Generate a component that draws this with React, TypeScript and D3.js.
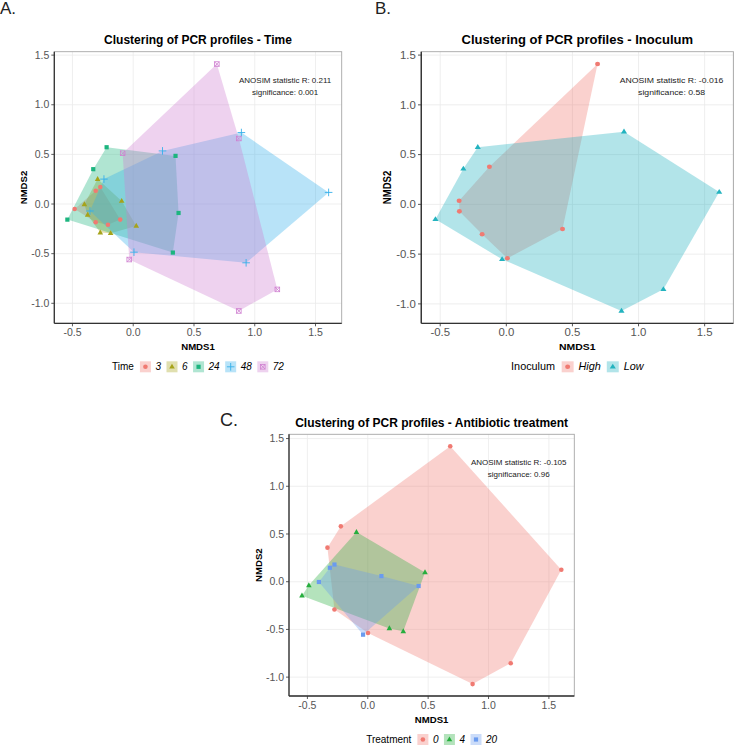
import React from "react";
import * as d3 from "d3";

// ---------- Panel A : Time ----------
const timeLevels = ["3", "6", "24", "48", "72"];
const timeColors = ["#F07A72", "#A6A31A", "#1DB57F", "#35B0EA", "#CF7FD0"];
const timeShapes = ["circle", "triangle", "square", "plus", "squarecross"];
const timeGroup = [
  0, 0, 0, 0, 0, 0,
  1, 1, 1, 1, 1, 1, 1,
  2, 2, 2, 2, 2, 2,
  3, 3, 3, 3, 3, 3, 3,
  4, 4, 4, 4, 4, 4,
];
const timeNMDS1 = [
  -0.309, -0.271, -0.482, -0.309, -0.208, -0.107,
  -0.293, -0.402, -0.375, -0.095, 0.025, -0.271, -0.186,
  -0.219, 0.348, -0.329, -0.542, 0.373, 0.326,
  0.89, 0.241, -0.241, 1.608, -0.356, 0.006, 0.929,
  0.688, 0.869, -0.087, -0.033, 1.186, 0.869,
];
const timeNMDS2 = [
  0.134, 0.171, -0.05, -0.184, -0.208, -0.157,
  0.251, -0.003, -0.11, 0.03, -0.221, -0.288, -0.295,
  0.572, 0.485, 0.351, -0.157, -0.09, -0.489,
  0.72, 0.535, 0.251, 0.117, -0.07, -0.485, -0.592,
  1.41, 0.66, 0.512, -0.559, -0.86, -1.077,
];

// ---------- Panel B : Inoculum ----------
const inocLevels = ["High", "Low"];
const inocColors = ["#F07A72", "#23B3BF"];
const inocShapes = ["circle", "triangle"];
const inocGroup = [0, 0, 0, 0, 0, 0, 0, 1, 1, 1, 1, 1, 1, 1, 1];
const inocNMDS1 = [0.69, -0.128, -0.357, -0.355, -0.183, 0.425, 0.008, 0.89, -0.216, -0.325, 1.61, -0.536, -0.032, 1.188, 0.871];
const inocNMDS2 = [1.41, 0.378, 0.037, -0.07, -0.3, -0.248, -0.542, 0.73, 0.575, 0.358, 0.124, -0.15, -0.552, -0.853, -1.071];

// ---------- Panel C : Antibiotic treatment ----------
const treatLevels = ["0", "4", "20"];
const treatColors = ["#F07A72", "#27AE3E", "#6A9BEF"];
const treatShapes = ["circle", "triangle", "square"];
const treatGroup = [0, 0, 0, 0, 0, 0, 0, 0, 1, 1, 1, 1, 1, 1, 2, 2, 2, 2, 2, 2];
const treatNMDS1 = [0.683, -0.223, -0.334, 1.603, -0.276, 0.002, 0.868, 1.184, -0.094, 0.474, -0.488, -0.545, 0.179, 0.294, -0.276, -0.314, 0.113, -0.405, 0.421, -0.039];
const treatNMDS2 = [1.42, 0.58, 0.357, 0.125, -0.292, -0.538, -1.073, -0.854, 0.52, 0.097, -0.038, -0.146, -0.49, -0.52, 0.18, 0.146, 0.059, -0.003, -0.045, -0.555];

const xTicks = [-0.5, 0, 0.5, 1, 1.5];
const yTicks = [-1, -0.5, 0, 0.5, 1, 1.5];

const FONT = "'Liberation Sans', Arial, Helvetica, sans-serif";
const FILL_ALPHA = 0.35;

let canvasCtx: CanvasRenderingContext2D | null = null;
function measure(text: string, font: string): number {
  if (!canvasCtx) canvasCtx = document.createElement("canvas").getContext("2d");
  if (!canvasCtx) return text.length * 5;
  canvasCtx.font = font;
  return canvasCtx.measureText(text).width;
}

function Marker({ shape, color, x, y }: { shape: string; color: string; x: number; y: number }) {
  switch (shape) {
    case "circle":
      return <circle cx={x} cy={y} r={2.3} fill={color} />;
    case "triangle":
      return <path d={`M${x},${y - 3.1}L${x + 2.8},${y + 1.8}L${x - 2.8},${y + 1.8}Z`} fill={color} />;
    case "square":
      return <rect x={x - 2.1} y={y - 2.1} width={4.2} height={4.2} fill={color} />;
    case "plus":
      return (
        <g stroke={color} strokeWidth={0.9}>
          <line x1={x - 3.8} x2={x + 3.8} y1={y} y2={y} />
          <line x1={x} x2={x} y1={y - 3.8} y2={y + 3.8} />
        </g>
      );
    case "squarecross":
      return (
        <g stroke={color} strokeWidth={0.8} fill="none">
          <rect x={x - 2.3} y={y - 2.3} width={4.6} height={4.6} />
          <line x1={x - 2.3} x2={x + 2.3} y1={y - 2.3} y2={y + 2.3} />
          <line x1={x - 2.3} x2={x + 2.3} y1={y + 2.3} y2={y - 2.3} />
        </g>
      );
    default:
      return null;
  }
}

type PanelProps = {
  x0: number;
  sx: number;
  left: number;
  top: number;
  width: number;
  height: number;
  title: string;
  levels: string[];
  colors: string[];
  shapes: string[];
  group: number[];
  xs: number[];
  ys: number[];
  legendTitle: string;
  stat: string;
  sig: string;
};

function expand(ext: [number, number]): [number, number] {
  const r = ext[1] - ext[0];
  return [ext[0] - 0.05 * r, ext[1] + 0.05 * r];
}

function Panel(p: PanelProps) {
  const xScale = d3.scaleLinear().domain(expand(d3.extent(p.xs) as [number, number])).range([p.left, p.left + p.width]);
  const yScale = d3.scaleLinear().domain(expand(d3.extent(p.ys) as [number, number])).range([p.top + p.height, p.top]);
  const pts = p.xs.map((x, i) => ({ x, y: p.ys[i], g: p.group[i] }));
  const hulls = p.levels.map((_, gi) => {
    const gp = pts.filter((d) => d.g === gi).map((d) => [xScale(d.x), yScale(d.y)] as [number, number]);
    return d3.polygonHull(gp);
  });
  const line = d3.line();
  const cx = p.left + p.width / 2;
  const bottom = p.top + p.height;
  const right = p.left + p.width;

  // legend layout
  const legY = bottom + 43.5;
  const titleW = measure(p.legendTitle, `10px ${FONT}`);
  const labelW = p.levels.map((l) => measure(l, `italic 10px ${FONT}`));
  const keyW = 11;
  let total = titleW + 6;
  labelW.forEach((w, i) => {
    total += keyW + 4.5 + w + (i < labelW.length - 1 ? 5.5 : 0);
  });
  const lx = cx - total / 2;
  const legendItems: { kx: number; tx: number }[] = [];
  let cur = lx + titleW + 6;
  labelW.forEach((w) => {
    legendItems.push({ kx: cur, tx: cur + keyW + 4.5 });
    cur += keyW + 4.5 + w + 5.5;
  });

  const fmt = (v: number) => v.toFixed(1);

  return (
    <g transform={`translate(${p.x0},0) scale(${p.sx},1)`}>
      {/* grid */}
      <g stroke="#ebebeb" strokeWidth={0.8}>
        {xTicks.map((t) => (
          <line key={"gx" + t} x1={xScale(t)} x2={xScale(t)} y1={p.top} y2={bottom} />
        ))}
        {yTicks.map((t) => (
          <line key={"gy" + t} x1={p.left} x2={right} y1={yScale(t)} y2={yScale(t)} />
        ))}
      </g>
      {/* hulls */}
      {hulls.map((h, i) =>
        h ? <path key={"h" + i} d={line(h.concat([h[0]])) || ""} fill={p.colors[i]} fillOpacity={FILL_ALPHA} stroke="none" /> : null
      )}
      {/* points */}
      {pts.map((d, i) => (
        <Marker key={"p" + i} shape={p.shapes[d.g]} color={p.colors[d.g]} x={xScale(d.x)} y={yScale(d.y)} />
      ))}
      {/* border */}
      <rect x={p.left} y={p.top} width={p.width} height={p.height} fill="none" stroke="#a6a6a6" strokeWidth={0.9} />
      <line x1={p.left} x2={p.left} y1={p.top} y2={bottom} stroke="#333" strokeWidth={1.3} />
      <line x1={p.left} x2={right} y1={bottom} y2={bottom} stroke="#333" strokeWidth={1.3} />
      {/* ticks */}
      <g stroke="#333" strokeWidth={0.8}>
        {xTicks.map((t) => (
          <line key={"tx" + t} x1={xScale(t)} x2={xScale(t)} y1={bottom} y2={bottom + 3} />
        ))}
        {yTicks.map((t) => (
          <line key={"ty" + t} x1={p.left - 3} x2={p.left} y1={yScale(t)} y2={yScale(t)} />
        ))}
      </g>
      <g fontFamily={FONT} fontSize={10.5} fill="#555">
        {xTicks.map((t) => (
          <text key={"lx" + t} x={xScale(t)} y={bottom + 13} textAnchor="middle">
            {fmt(t)}
          </text>
        ))}
        {yTicks.map((t) => (
          <text key={"ly" + t} x={p.left - 5} y={yScale(t) + 3.7} textAnchor="end">
            {fmt(t)}
          </text>
        ))}
      </g>
      {/* axis titles */}
      <text x={cx} y={bottom + 26.5} textAnchor="middle" fontFamily={FONT} fontSize={9.6} fontWeight="bold" fill="#000">
        NMDS1
      </text>
      <text
        transform={`translate(${p.left - 27.5},${p.top + p.height / 2}) rotate(-90)`}
        textAnchor="middle"
        fontFamily={FONT}
        fontSize={9.6}
        fontWeight="bold"
        fill="#000"
      >
        NMDS2
      </text>
      {/* title */}
      <text x={cx} y={p.top - 7.6} textAnchor="middle" fontFamily={FONT} fontSize={12} fontWeight="bold" fill="#000">
        {p.title}
      </text>
      {/* annotation */}
      <g fontFamily={FONT} fontSize={8} fill="#1a1a1a" textAnchor="middle">
        <text x={xScale(1.25)} y={yScale(1.22)}>{p.stat}</text>
        <text x={xScale(1.25)} y={yScale(1.22) + 11.6}>{p.sig}</text>
      </g>
      {/* legend */}
      <g fontFamily={FONT} fontSize={10} fill="#000">
        <text x={lx} y={legY + 3.6}>{p.legendTitle}</text>
        {legendItems.map((it, i) => (
          <g key={"lg" + i}>
            <rect x={it.kx} y={legY - keyW / 2} width={keyW} height={keyW} fill={p.colors[i]} fillOpacity={FILL_ALPHA} />
            <Marker shape={p.shapes[i]} color={p.colors[i]} x={it.kx + keyW / 2} y={legY} />
            <text x={it.tx} y={legY + 3.6} fontStyle="italic">
              {p.levels[i]}
            </text>
          </g>
        ))}
      </g>
    </g>
  );
}

export default function App() {
  return (
    <svg
      width={734}
      height={745}
      viewBox="0 0 734 745"
      style={{ position: "absolute", left: 0, top: 0, background: "#fff" }}
    >
      <rect x={0} y={0} width={734} height={745} fill="#fff" />
      <Panel
        x0={0}
        sx={1}
        left={54.3}
        top={51.7}
        width={287.4}
        height={271.6}
        title="Clustering of PCR profiles - Time"
        levels={timeLevels}
        colors={timeColors}
        shapes={timeShapes}
        group={timeGroup}
        xs={timeNMDS1}
        ys={timeNMDS2}
        legendTitle="Time"
        stat="ANOSIM statistic R: 0.211"
        sig="significance: 0.001"
      />
      <Panel
        x0={362.3}
        sx={1.086}
        left={54.3}
        top={51.7}
        width={287.4}
        height={271.6}
        title="Clustering of PCR profiles - Inoculum"
        levels={inocLevels}
        colors={inocColors}
        shapes={inocShapes}
        group={inocGroup}
        xs={inocNMDS1}
        ys={inocNMDS2}
        legendTitle="Inoculum"
        stat="ANOSIM statistic R: -0.016"
        sig="significance: 0.58"
      />
      <Panel
        x0={0}
        sx={1}
        left={289}
        top={434.3}
        width={285.3}
        height={261.7}
        title="Clustering of PCR profiles - Antibiotic treatment"
        levels={treatLevels}
        colors={treatColors}
        shapes={treatShapes}
        group={treatGroup}
        xs={treatNMDS1}
        ys={treatNMDS2}
        legendTitle="Treatment"
        stat="ANOSIM statistic R: -0.105"
        sig="significance: 0.96"
      />
      <g fontFamily={FONT} fill="#222" fontSize={17}>
        <text x={0} y={13.5}>A.</text>
        <text x={375} y={13.5}>B.</text>
        <text x={220} y={425.5} fontSize={18}>C.</text>
      </g>
    </svg>
  );
}
